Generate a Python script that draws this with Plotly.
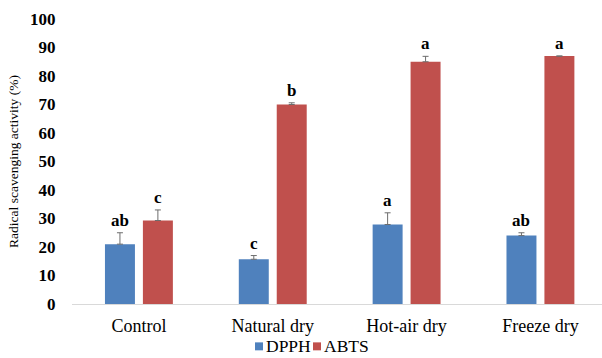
import plotly.graph_objects as go

categories = ["Control", "Natural dry", "Hot-air dry", "Freeze dry"]
dpph = [21.0, 15.7, 27.9, 24.0]
dpph_err = [4.0, 1.3, 4.1, 1.0]
abts = [29.3, 70.0, 85.0, 87.0]
abts_err = [3.7, 0.6, 1.9, 0.0]
dpph_letters = ["ab", "c", "a", "ab"]
abts_letters = ["c", "b", "a", "a"]
y_ticks = list(range(0, 101, 10))
series_names = ["DPPH", "ABTS"]

BLUE = "#4F81BD"
RED = "#C0504D"
SERIF = "Liberation Serif"

fig = go.Figure()
fig.add_trace(go.Bar(
    name=series_names[0], x=categories, y=dpph, marker_color=BLUE, marker_line_width=0,
    error_y=dict(type="data", array=dpph_err, arrayminus=[0] * 4, symmetric=False,
                 color="#6d6d6d", thickness=1, width=3),
))
fig.add_trace(go.Bar(
    name=series_names[1], x=categories, y=abts, marker_color=RED, marker_line_width=0,
    error_y=dict(type="data", array=abts_err, arrayminus=[0] * 4, symmetric=False,
                 color="#6d6d6d", thickness=1, width=3),
))

bargap = 0.433
bargroupgap = 0.21
offset = (1 - bargap) / 4

for i in range(len(categories)):
    for vals, errs, letters, sgn in ((dpph, dpph_err, dpph_letters, -1),
                                      (abts, abts_err, abts_letters, 1)):
        fig.add_annotation(
            x=i + sgn * offset, y=vals[i] + errs[i], xref="x", yref="y",
            text="<b>%s</b>" % letters[i], showarrow=False,
            yanchor="bottom", yshift=1,
            font=dict(family=SERIF, size=17, color="#000000"),
        )

# compact legend (small squares close to the labels, as in the original)
PLOT_L, PLOT_W, PLOT_B, PLOT_H = 72, 530, 304.5, 286
def px_x(p):
    return (p - PLOT_L) / PLOT_W
def px_y(p):
    return (PLOT_B - p) / PLOT_H

legend_items = [(BLUE, series_names[0], 255), (RED, series_names[1], 313)]
for color, name, sx in legend_items:
    fig.add_shape(type="rect", xref="paper", yref="paper",
                  x0=px_x(sx), x1=px_x(sx + 8), y0=px_y(351), y1=px_y(343),
                  fillcolor=color, line_width=0)
    fig.add_annotation(
        x=px_x(sx + 9), y=px_y(347), xref="paper", yref="paper",
        xanchor="left", yanchor="middle", text=name, showarrow=False,
        font=dict(family=SERIF, size=17.5, color="#000000"),
    )

fig.update_layout(
    width=602, height=358,
    margin=dict(l=72, r=0, t=18.5, b=53.5),
    paper_bgcolor="white", plot_bgcolor="white",
    barmode="group", bargap=bargap, bargroupgap=bargroupgap,
    showlegend=False,
    font=dict(family=SERIF, color="#000000"),
)
fig.update_xaxes(
    type="category", range=[-0.5, 3.46],
    showline=True, linecolor="#D9D9D9", linewidth=1,
    showgrid=False, zeroline=False, ticks="",
    ticklabelstandoff=5,
    tickfont=dict(family=SERIF, size=18, color="#000000"),
)
fig.update_yaxes(
    range=[0, 100], tickvals=y_ticks, ticktext=["<b>%d</b>" % v for v in y_ticks],
    showgrid=False, zeroline=False, showline=False,
    ticks="outside", ticklen=12, tickcolor="rgba(0,0,0,0)",
    tickfont=dict(family=SERIF, size=17, color="#000000"),
    title=dict(text="Radical scavenging activity (%)", standoff=8,
               font=dict(family=SERIF, size=13.5, color="#000000")),
)

fig.write_html(
    "out.html",
    config={"displayModeBar": False},
    post_script="document.body.style.margin='0';document.body.style.overflow='hidden';",
)
